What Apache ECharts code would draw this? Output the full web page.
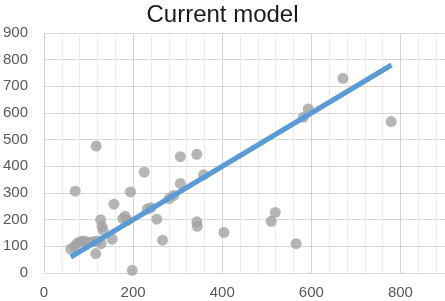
<!DOCTYPE html>
<html>
<head>
<meta charset="utf-8">
<script src="https://cdn.jsdelivr.net/npm/echarts@6/dist/echarts.min.js"></script>
<style>
  html, body { margin: 0; padding: 0; background: #fff; }
  #main { width: 445px; height: 301px; }
</style>
</head>
<body>
<div id="main"></div>
<script>
var chartDom = document.getElementById('main');
var myChart = echarts.init(chartDom);

let title = 'Current model';

// observed points (x, y)
const pointX = [60, 68, 75, 82, 90, 100, 110, 120, 128, 70, 117, 116, 127, 130, 133,
    153, 157, 177, 182, 187, 194, 198, 225, 232, 240, 253, 266, 281, 291, 306,
    306, 343, 343, 344, 358, 404, 510, 519, 566, 582, 593, 671, 779];
const pointY = [90, 100, 112, 118, 120, 115, 118, 120, 110, 307, 476, 73, 200, 175, 160,
    127, 258, 204, 213, 198, 304, 10, 378, 240, 245, 202, 123, 279, 291, 436,
    336, 445, 192, 175, 368, 152, 194, 227, 110, 584, 615, 730, 568];

// fitted line end points
const fitX = [60, 780];
const fitY = [60, 780];

const xTicks = [0, 200, 400, 600, 800];

const scatterData = pointX.map((x, i) => [x, pointY[i]]);
const lineData = fitX.map((x, i) => [x, fitY[i]]);

var option = {
    animation: false,
    title: {
        text: title,
        left: 'center',
        top: -2,
        textStyle: {
            fontFamily: 'Liberation Sans',
            fontSize: 24,
            fontWeight: 'normal',
            color: '#1a1a1a'
        }
    },
    grid: {
        left: 42,
        right: -2,
        top: 33,
        bottom: 28
    },
    xAxis: {
        type: 'value',
        min: 0,
        max: 900,
        interval: 40,
        axisLine: { show: false },
        axisTick: { show: false },
        axisLabel: {
            margin: 12,
            showMaxLabel: false,
            fontFamily: 'Liberation Sans',
            fontSize: 15,
            color: '#595959',
            formatter: (v) => xTicks.indexOf(v) >= 0 ? String(v) : ''
        },
        splitLine: {
            show: true,
            lineStyle: {
                color: ['#d4d4d4', '#ececec', '#ececec', '#ececec', '#ececec'],
                width: 1
            }
        }
    },
    yAxis: {
        type: 'value',
        min: 0,
        max: 900,
        interval: 100,
        axisLine: { show: false },
        axisTick: { show: false },
        axisLabel: {
            margin: 16,
            fontFamily: 'Liberation Sans',
            fontSize: 15,
            color: '#595959'
        },
        splitLine: {
            show: true,
            lineStyle: { color: '#d9d9d9', width: 1 }
        }
    },
    series: [
        {
            name: 'Observed',
            type: 'scatter',
            symbolSize: 11,
            itemStyle: { color: '#a2a2a2' },
            data: scatterData,
            z: 2
        },
        {
            name: 'Fit',
            type: 'line',
            symbol: 'none',
            lineStyle: { color: '#5b9bd5', width: 5 },
            data: lineData,
            z: 3
        }
    ]
};

myChart.setOption(option);
</script>
</body>
</html>
